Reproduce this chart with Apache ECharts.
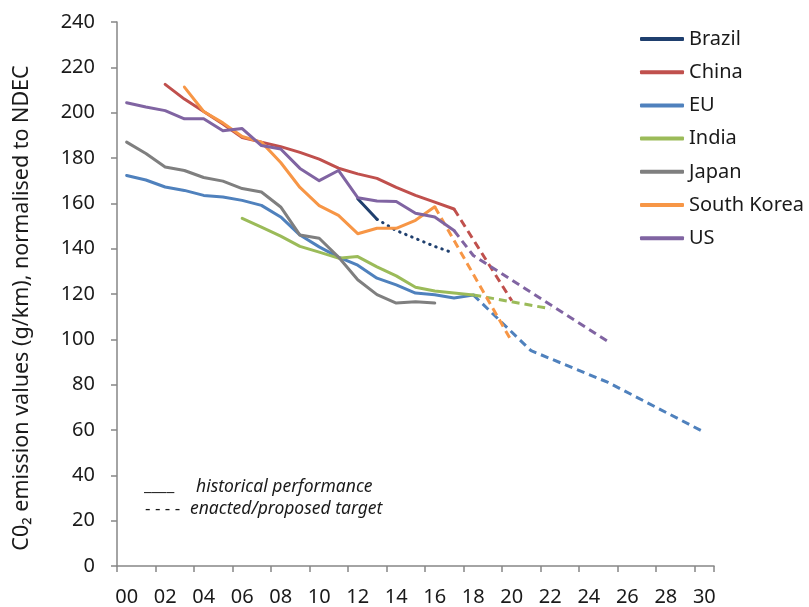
<!DOCTYPE html>
<html>
<head>
<meta charset="utf-8">
<script src="https://cdn.jsdelivr.net/npm/echarts@6/dist/echarts.min.js"></script>
<style>html,body{margin:0;padding:0;background:#fff}#c{width:809px;height:607px}</style>
</head>
<body>
<div id="c"></div>
<script>
const years = ['00','01','02','03','04','05','06','07','08','09','10','11','12','13','14','15','16','17','18','19','20','21','22','23','24','25','26','27','28','29','30'];
const yTicks = [0, 240, 20];

// [year index, value]
const brazilHist = [[12,162],[13,153]];
const brazilTarget = [[13,153],[14,148],[15,144.5],[16,141],[17,138]];
const chinaHist = [[2,212.5],[3,206],[4,200.5],[5,195],[6,189],[7,187],[8,185],[9,182.5],[10,179.5],[11,175.5],[12,173],[13,171],[14,167],[15,163.5],[16,160.5],[17,157.5]];
const chinaTarget = [[17,157.5],[20,117]];
const euHist = [[0,172.3],[1,170.3],[2,167.2],[3,165.7],[4,163.5],[5,162.8],[6,161.3],[7,159.1],[8,154],[9,146],[10,140.8],[11,136.3],[12,132.7],[13,127],[14,124],[15,120.4],[16,119.7],[17,118.2],[18,119.6]];
const euTarget = [[18,119.6],[21,95],[25,81],[30,59]];
const indiaHist = [[6,153.4],[7,149.5],[8,145.5],[9,141],[10,138.5],[11,135.8],[12,136.5],[13,132],[14,128],[15,123],[16,121.3],[17,120.4],[18,119.6]];
const indiaTarget = [[18,119.6],[22,113.5]];
const japanHist = [[0,187],[1,182],[2,176],[3,174.5],[4,171.4],[5,169.8],[6,166.5],[7,165],[8,158.4],[9,146],[10,144.6],[11,136.3],[12,126.3],[13,119.7],[14,116],[15,116.6],[16,116]];
const koreaHist = [[3,211.3],[4,200.5],[5,195.5],[6,189.5],[7,187],[8,178],[9,167],[10,159],[11,154.7],[12,146.6],[13,149],[14,149],[15,152.5],[16,158.5]];
const koreaTarget = [[16,158.5],[20,99]];
const usHist = [[0,204.4],[1,202.5],[2,200.9],[3,197.3],[4,197.3],[5,192],[6,193],[7,185.5],[8,184],[9,175.4],[10,170],[11,174.5],[12,162.5],[13,161],[14,160.8],[15,155.6],[16,154],[17,148]];
const usTarget = [[17,148],[18,137],[25,99]];

const countries = ['Brazil','China','EU','India','Japan','South Korea','US'];
const colors = {Brazil:'#1F3F6E', China:'#C0504D', EU:'#4F81BD', India:'#9BBB59', Japan:'#7F7F7F', 'South Korea':'#F79646', US:'#8064A2'};

function hist(name, data){
  return {name:name, type:'line', data:data, symbol:'none', smooth:false, z:3,
    lineStyle:{color:colors[name], width:3, cap:'round', join:'round'}, itemStyle:{color:colors[name]}};
}
function target(name, data, dash){
  return {name:name+' target', type:'line', data:data, symbol:'none', connectNulls:true, z:2,
    lineStyle:{color:colors[name], width:3, type:dash||[8,5], cap: dash ? 'round' : 'butt'}, itemStyle:{color:colors[name]}};
}

const series = [
  hist('Brazil', brazilHist), target('Brazil', brazilTarget, [0.5,6]),
  hist('China', chinaHist), target('China', chinaTarget),
  hist('EU', euHist), target('EU', euTarget),
  hist('India', indiaHist), target('India', indiaTarget),
  hist('Japan', japanHist),
  hist('South Korea', koreaHist), target('South Korea', koreaTarget),
  hist('US', usHist), target('US', usTarget)
];

const font = '"Noto Sans", sans-serif';
const chart = echarts.init(document.getElementById('c'), null, {renderer:'canvas'});
chart.setOption({
  animation:false,
  grid:{left:117, right:95, top:22, bottom:40, containLabel:false},
  legend:{
    data:countries, orient:'vertical', left:640, top:29, itemGap:13.2, padding:0,
    icon:'roundRect', itemWidth:44, itemHeight:4,
    textStyle:{fontFamily:font, fontSize:20, color:'#1a1a1a'}
  },
  xAxis:{
    type:'category', data:years, boundaryGap:true,
    axisLine:{lineStyle:{color:'#868686', width:1.5}},
    axisTick:{show:true, interval:1, length:6, lineStyle:{color:'#868686', width:1.5}},
    axisLabel:{interval:1, fontFamily:font, fontSize:20, color:'#1a1a1a', margin:21}
  },
  yAxis:{
    type:'value', min:yTicks[0], max:yTicks[1], interval:yTicks[2],
    splitLine:{show:false},
    axisLine:{show:true, lineStyle:{color:'#868686', width:1.5}},
    axisTick:{show:true, length:6, lineStyle:{color:'#868686', width:1.5}},
    axisLabel:{fontFamily:font, fontSize:20, color:'#1a1a1a', margin:22}
  },
  graphic:[
    {type:'text', x:22, y:308, rotation:Math.PI/2,
      style:{text:'C0₂ emission values (g/km), normalised to NDEC', fontFamily:font, fontSize:21.5, fill:'#1a1a1a', align:'center', verticalAlign:'middle'}},
    {type:'text', x:144, y:495, style:{text:'____', fontFamily:font, fontSize:17, fill:'#1a1a1a', verticalAlign:'bottom'}},
    {type:'text', x:196, y:487, style:{text:'historical performance', fontFamily:font, fontSize:17.5, fontStyle:'italic', fill:'#1a1a1a', verticalAlign:'middle'}},
    {type:'text', x:145, y:509, style:{text:'- - - -', fontFamily:font, fontSize:17, fill:'#1a1a1a', verticalAlign:'middle'}},
    {type:'text', x:190, y:509, style:{text:'enacted/proposed target', fontFamily:font, fontSize:17.5, fontStyle:'italic', fill:'#1a1a1a', verticalAlign:'middle'}}
  ],
  series:series
});
</script>
</body>
</html>
